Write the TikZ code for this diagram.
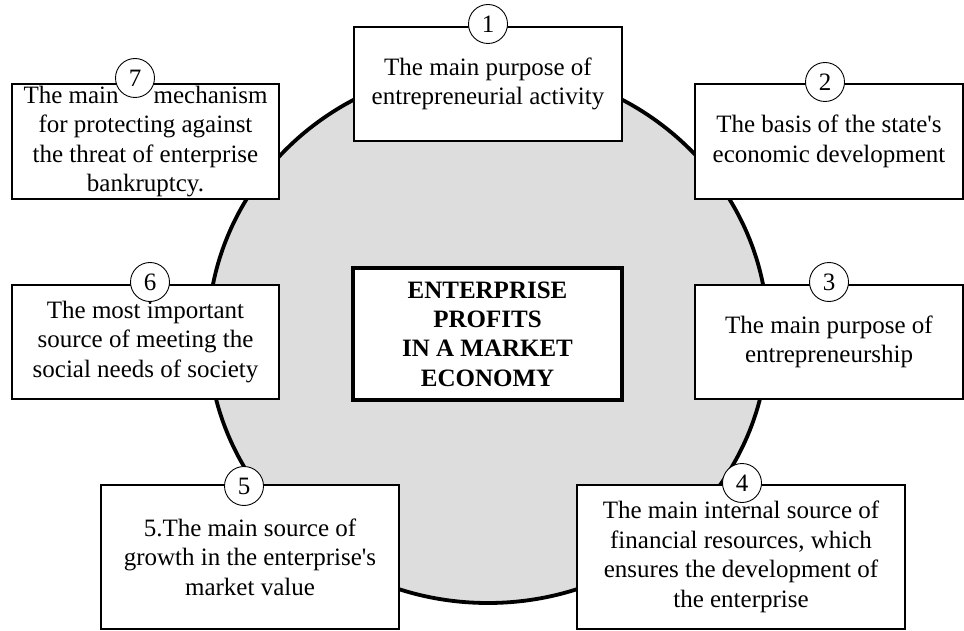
\documentclass[tikz,border=0pt]{standalone}
\usepackage{fontspec}
\setmainfont{Liberation Serif}[Ligatures=TeXOff]
\definecolor{fillgray}{RGB}{221,221,221}
\tikzset{
  box/.style={draw, line width=1.6pt, fill=white, align=center, inner sep=0pt,
    font=\fontsize{25}{29.5}\selectfont},
  num/.style={draw, circle, line width=0.9pt, fill=white, minimum size=39pt,
    inner sep=0pt, font=\fontsize{25}{29.5}\selectfont},
  core/.style={box, line width=4pt, font=\fontsize{25}{29.3}\selectfont\bfseries},
  ring/.style={fill=fillgray, draw=black, line width=3.8pt},
}
\begin{document}
\begin{tikzpicture}[x=1pt,y=-1pt]
\useasboundingbox (0,0) rectangle (964,631);
\path[ring] (488,335) ellipse [x radius=280pt, y radius=268pt];

\node[core, minimum width=269pt, minimum height=132pt] (core) at (487.5,334)
  {ENTERPRISE\\PROFITS\\IN A MARKET\\ECONOMY};

\node[box, minimum width=268pt, minimum height=114pt] (b1) at (488,84)
  {The main purpose of\\entrepreneurial activity};
\node[box, minimum width=268pt, minimum height=115pt] (b2) at (829,141.5)
  {The basis of the state's\\economic development};
\node[box, minimum width=268pt, minimum height=114pt] (b3) at (829,342)
  {The main purpose of\\entrepreneurship};
\node[box, minimum width=328pt, minimum height=144pt] (b4) at (741,557)
  {The main internal source of\\financial resources, which\\ensures the development of\\the enterprise};
\node[box, minimum width=298pt, minimum height=144pt] (b5) at (250,557)
  {5.The main source of\\growth in the enterprise's\\market value};
\node[box, minimum width=267pt, minimum height=114pt] (b6) at (145.5,342)
  {The most important\\source of meeting the\\social needs of society};
\node[box, minimum width=267pt, minimum height=115pt] (b7) at (145.5,141.5)
  {};

\node[num] (n1) at (488,24) {1};
\node[num] (n2) at (825,82) {2};
\node[num] (n3) at (829,282) {3};
\node[num] (n4) at (742,483) {4};
\node[num] (n5) at (244,486) {5};
\node[num] (n6) at (150,282) {6};
\node[num] (n7) at (135,78) {7};

\node[align=center, inner sep=0pt, font=\fontsize{25}{29.5}\selectfont] (t7) at (b7.center)
  {The main\hspace{35pt}mechanism\\for protecting against\\the threat of enterprise\\bankruptcy.};
\end{tikzpicture}
\end{document}
